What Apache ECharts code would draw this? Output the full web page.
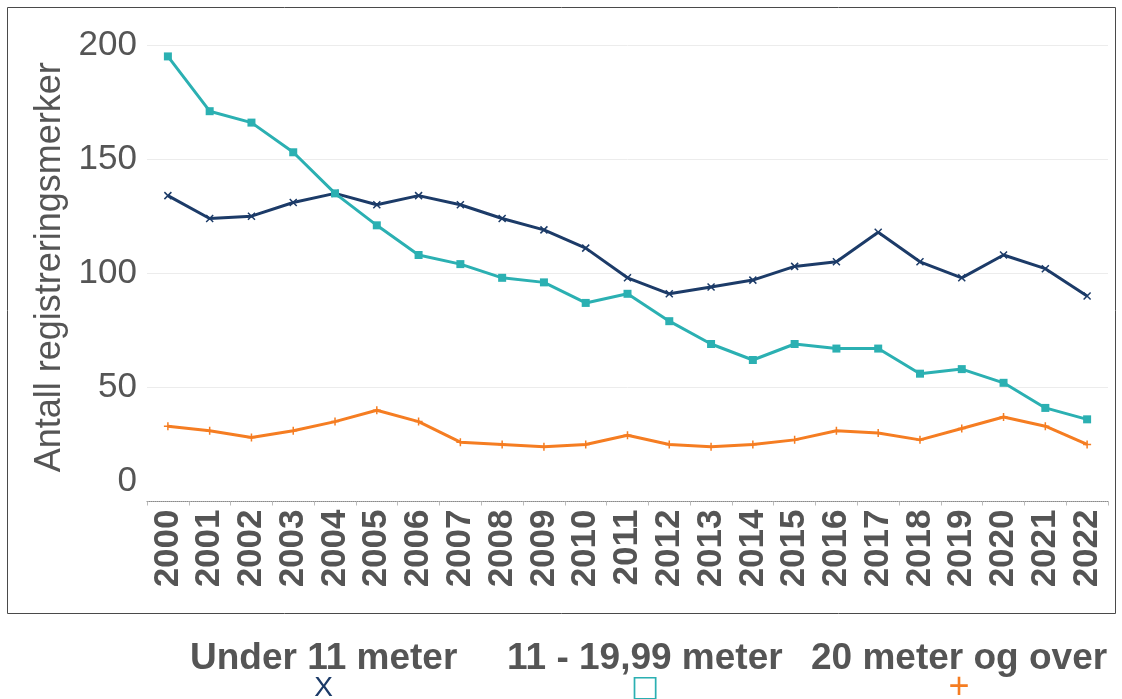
<!DOCTYPE html>
<html>
<head>
<meta charset="utf-8">
<script src="https://cdn.jsdelivr.net/npm/echarts@6/dist/echarts.min.js"></script>
<style>
  html, body { margin: 0; padding: 0; background: #fff; }
  #chart { width: 1122px; height: 699px; }
</style>
</head>
<body>
<div id="chart"></div>
<script>
var years = ['2000', '2001', '2002', '2003', '2004', '2005', '2006', '2007', '2008', '2009', '2010',
    '2011', '2012', '2013', '2014', '2015', '2016', '2017', '2018', '2019', '2020', '2021', '2022'];
var under11 = [134, 124, 125, 131, 135, 130, 134, 130, 124, 119, 111, 98, 91, 94, 97, 103, 105, 118, 105, 98, 108, 102, 90];
var mid11to20 = [195, 171, 166, 153, 135, 121, 108, 104, 98, 96, 87, 91, 79, 69, 62, 69, 67, 67, 56, 58, 52, 41, 36];
var over20 = [33, 31, 28, 31, 35, 40, 35, 26, 25, 24, 25, 29, 25, 24, 25, 27, 31, 30, 27, 32, 37, 33, 25];
var yTicks = [0, 50, 100, 150, 200];

var seriesNames = ['Under 11 meter', '11 - 19,99 meter', '20 meter og over'];
var colors = ['#1C3B68', '#2BB0B2', '#F57D22'];
var iconText = ['X', '\u25A1', '+'];
var legendLeft = [184, 501, 805];

var font = "'Liberation Sans', Arial, sans-serif";
var chart = echarts.init(document.getElementById('chart'));

function makeLegend(i) {
    var iconSize = [28, 30, 36];
    var rich = {
        t: { fontSize: 37, fontWeight: 'bold', color: '#555555', fontFamily: font, lineHeight: 34, align: 'center' },
        i: { fontSize: iconSize[i], color: colors[i], fontFamily: i === 1 ? "'DejaVu Sans', sans-serif" : font, lineHeight: 26, align: 'center', fontWeight: 'normal' }
    };
    return {
        data: [seriesNames[i]],
        left: legendLeft[i],
        top: 640,
        padding: 0,
        itemWidth: 0,
        itemHeight: 0,
        selectedMode: false,
        formatter: function(name) { return '{t|' + name + '}\n{i|' + iconText[i] + '}'; },
        textStyle: { rich: rich }
    };
}

var option = {
    animation: false,
    color: colors,
    grid: { left: 147, right: 14, top: 45, bottom: 197.5 },
    legend: [makeLegend(0), makeLegend(1), makeLegend(2)],
    graphic: [{
        type: 'rect',
        shape: { x: 7.5, y: 7.5, width: 1108, height: 606 },
        style: { fill: 'none', stroke: '#4a4a4a', lineWidth: 1 },
        silent: true
    }],
    xAxis: {
        type: 'category',
        data: years,
        boundaryGap: true,
        axisLine: { show: true, lineStyle: { color: '#8a8a8a', type: 'dotted', width: 1 } },
        axisTick: { show: true, length: 4, lineStyle: { color: '#bbbbbb' } },
        axisLabel: {
            rotate: 90, interval: 0, margin: 8,
            fontSize: 35, fontWeight: 'bold', color: '#555555', fontFamily: font
        },
        splitLine: { show: false }
    },
    yAxis: {
        type: 'value',
        min: 0, max: 200, interval: 50,
        name: 'Antall registreringsmerker',
        nameLocation: 'middle',
        nameGap: 69,
        nameRotate: 90,
        nameTextStyle: { fontSize: 36, color: '#555555', fontFamily: font, padding: [0, 0, 0, 12] },
        axisLine: { show: false },
        axisTick: { show: false },
        axisLabel: {
            margin: 10, fontSize: 35, color: '#555555', fontFamily: font,
            formatter: function(v) {
                if (yTicks.indexOf(v) < 0) return '';
                return v === 0 ? '{z|0}' : String(v);
            },
            rich: {
                z: { fontSize: 35, color: '#555555', fontFamily: font, padding: [0, 0, 40, 0] }
            }
        },
        splitLine: { show: true, lineStyle: { color: '#ececec', width: 1 } }
    },
    series: [{
        name: seriesNames[0],
        type: 'line',
        data: under11,
        symbol: 'path://M0,0L10,10M10,0L0,10',
        symbolSize: 7,
        showAllSymbol: true,
        lineStyle: { width: 3, color: colors[0] },
        itemStyle: { color: colors[0], borderColor: colors[0], borderWidth: 1.5 }
    }, {
        name: seriesNames[1],
        type: 'line',
        data: mid11to20,
        symbol: 'rect',
        symbolSize: 8,
        showAllSymbol: true,
        lineStyle: { width: 3, color: colors[1] },
        itemStyle: { color: colors[1] }
    }, {
        name: seriesNames[2],
        type: 'line',
        data: over20,
        symbol: 'path://M5,0L5,10M0,5L10,5',
        symbolSize: 8,
        showAllSymbol: true,
        lineStyle: { width: 3, color: colors[2] },
        itemStyle: { color: colors[2], borderColor: colors[2], borderWidth: 1.5 }
    }]
};

chart.setOption(option);
window.addEventListener('resize', function() { chart.resize(); });
</script>
</body>
</html>
